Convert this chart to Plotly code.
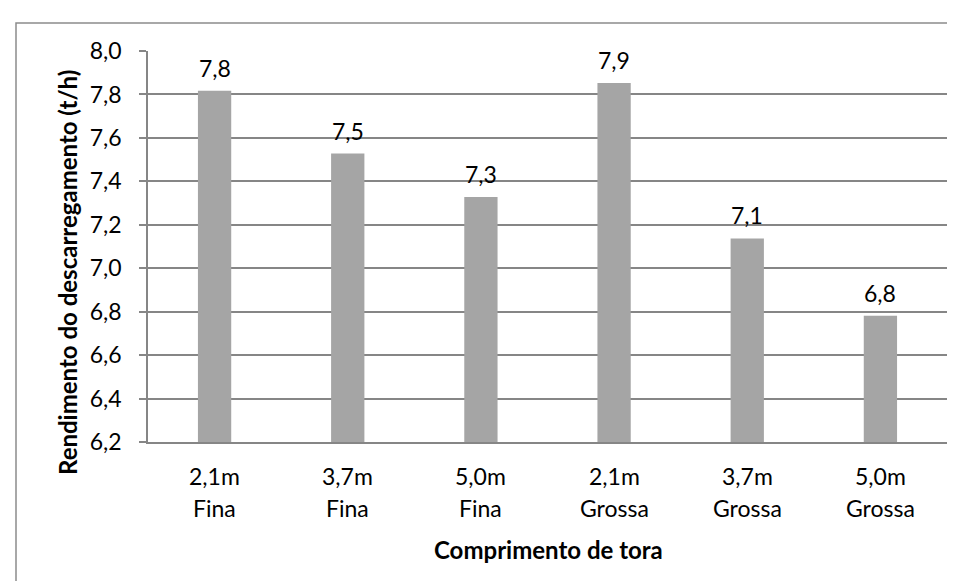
"""Rendimento do descarregamento por comprimento de tora."""

import plotly.graph_objects as go

FONT = 'Lato'

comprimento = ['2,1m', '3,7m', '5,0m', '2,1m', '3,7m', '5,0m']
classe = ['Fina', 'Fina', 'Fina', 'Grossa', 'Grossa', 'Grossa']
rendimento = [7.817, 7.528, 7.328, 7.853, 7.137, 6.781]
y_ticks = [6.2, 6.4, 6.6, 6.8, 7.0, 7.2, 7.4, 7.6, 7.8, 8.0]

categories = [f'{c} {k}' for c, k in zip(comprimento, classe)]

W, H = 955, 581
L, R, T, B = 140, 16, 43, 147
pw, ph = W - L - R, H - T - B


def py(pixel_y):
  """pixel row -> paper y."""
  return (H - B - pixel_y) / ph


def px(pixel_x):
  """pixel column -> paper x."""
  return (pixel_x - L) / pw


fig = go.Figure()
fig.add_trace(
    go.Bar(
        x=categories,
        y=rendimento,
        marker=dict(color='#a5a5a5', line=dict(width=0)),
        hoverinfo='y',
    )
)

# data labels above the bars, comma decimals
for cat, v in zip(categories, rendimento):
  fig.add_annotation(
      x=cat, y=v, xref='x', yref='y',
      text=f'{v:.1f}'.replace('.', ','),
      showarrow=False, yanchor='middle', yshift=23,
      font=dict(family=FONT, size=23, color='black'),
  )

# two-line category labels
for cat, c, k in zip(categories, comprimento, classe):
  fig.add_annotation(
      x=cat, y=py(468), xref='x', yref='paper', text=c,
      showarrow=False, yanchor='middle',
      font=dict(family=FONT, size=23, color='black'),
  )
  fig.add_annotation(
      x=cat, y=py(500), xref='x', yref='paper', text=k,
      showarrow=False, yanchor='middle',
      font=dict(family=FONT, size=23, color='black'),
  )

# axis titles
fig.add_annotation(
    x=px(59), y=py(265), xref='paper', yref='paper',
    text='<b>Rendimento do descarregamento (t/h)</b>', textangle=-90,
    showarrow=False, xanchor='center', yanchor='middle',
    font=dict(family=FONT, size=24, color='black'),
)
fig.add_annotation(
    x=px(540), y=py(541), xref='paper', yref='paper',
    text='<b>Comprimento de tora</b>',
    showarrow=False, xanchor='center', yanchor='middle',
    font=dict(family=FONT, size=24, color='black'),
)

# chart area border (top and left visible)
fig.add_shape(
    type='rect', xref='paper', yref='paper',
    x0=px(8), x1=1.2, y0=-0.6, y1=py(15),
    line=dict(color='#8c8c8c', width=1.5), layer='below',
)

fig.update_layout(
    width=W,
    height=H,
    margin=dict(l=L, r=R, t=T, b=B),
    plot_bgcolor='white',
    paper_bgcolor='white',
    separators=',.',
    bargap=0.75,
    showlegend=False,
    font=dict(family=FONT, size=23, color='black'),
    xaxis=dict(
        showline=True, linecolor='#868686', linewidth=1.5,
        ticks='', showgrid=False, showticklabels=False,
    ),
    yaxis=dict(
        range=[6.2, 8.0],
        tickvals=y_ticks,
        tickformat='.1f',
        showline=True, linecolor='#868686', linewidth=1.5,
        ticks='outside', ticklen=7, tickcolor='#868686', tickwidth=1.5,
        showgrid=True, gridcolor='#868686', gridwidth=1.5,
        zeroline=False,
        ticklabelstandoff=13,
        tickfont=dict(family=FONT, size=23, color='black'),
    ),
)

fig.write_html('out.html')
